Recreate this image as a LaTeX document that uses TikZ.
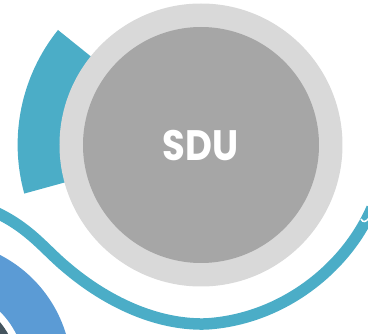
\documentclass[tikz,border=0pt]{standalone}
\usepackage{fontspec}
\setmainfont{Poppins}
\definecolor{teal1}{HTML}{4BADC7}
\definecolor{ringgray}{HTML}{D9D9D9}
\definecolor{coregray}{HTML}{A6A6A6}
\definecolor{blue1}{HTML}{5B9BD5}
\definecolor{dark1}{HTML}{44555F}
\tikzset{wave/.style={draw=teal1,line width=11.5pt}}
\begin{document}
\begin{tikzpicture}[x=1pt,y=-1pt]
\useasboundingbox (0,0) rectangle (368,334);
\clip (0,0) rectangle (368,334);
\fill[teal1] (58,30) arc[start angle=218.8,end angle=164.5,radius=183] -- (201,145) -- cycle;
\fill[ringgray] (201,145) circle[radius=141.5];
\fill[coregray] (201,145) circle[radius=118];
\node[font=\bfseries\fontsize{37}{39}\selectfont,text=white,yscale=1.15] (sdu) at (200.5,146) {SDU};
\draw[wave] (-5,212) .. controls (30,228) and (45,250) .. (67,268)
  .. controls (100,296) and (150,325) .. (205,324)
  .. controls (280,320) and (345,270) .. (372,208);
\draw[white,line width=1.5pt] (361,219) .. controls (363,223) and (366,222) .. (369,218);
\fill[blue1] (-60,372) circle[radius=131.5];
\fill[white] (-60,372) circle[radius=85];
\fill[dark1] (-60,372) circle[radius=78];
\end{tikzpicture}
\end{document}
